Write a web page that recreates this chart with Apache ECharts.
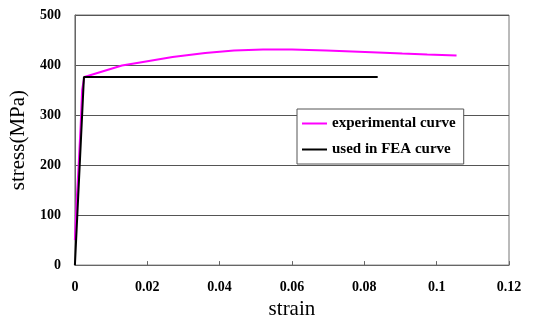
<!DOCTYPE html>
<html>
<head>
<meta charset="utf-8">
<style>html,body{margin:0;padding:0;background:#fff;}#c{width:543px;height:325px;}</style>
<script src="https://cdn.jsdelivr.net/npm/echarts@6/dist/echarts.min.js"></script>
</head>
<body>
<div id="c"></div>
<script>
// strain values and stress (MPa) values
const expStrain = [0, 0.0005, 0.001, 0.0016, 0.002, 0.0026, 0.013, 0.018, 0.027, 0.036, 0.044, 0.052, 0.06, 0.0695, 0.082, 0.0905, 0.0974, 0.1055];
const expStress = [50, 130, 195, 280, 350, 376, 399, 405, 416, 424, 429, 431, 431, 429, 425.5, 423, 421, 419];
const feaStrain = [0, 0.0025, 0.0837];
const feaStress = [0, 376, 376];
const xTickLabels = ['0', '0.02', '0.04', '0.06', '0.08', '0.1', '0.12'];
const yTickLabels = ['0', '100', '200', '300', '400', '500'];
const seriesNames = ['experimental curve', 'used in FEA curve'];

const serif = '"Liberation Serif", "Times New Roman", serif';
const chart = echarts.init(document.getElementById('c'));
chart.setOption({
  animation: false,
  backgroundColor: '#fff',
  grid: { left: 72, right: 34, top: 15, bottom: 57, show: true, borderColor: '#777', borderWidth: 1, backgroundColor: 'transparent' },
  legend: {
    orient: 'vertical', left: 297, top: 109, padding: [7, 8, 7, 5],
    backgroundColor: '#fff', borderColor: '#555', borderWidth: 1,
    icon: 'rect', itemWidth: 25, itemHeight: 2, itemGap: 11,
    textStyle: { fontFamily: serif, fontWeight: 'bold', fontSize: 15, color: '#000', lineHeight: 15 },
    data: seriesNames
  },
  xAxis: {
    type: 'value', min: 0, max: 0.12, interval: 0.02,
    name: 'strain', nameLocation: 'middle', nameGap: 27,
    nameTextStyle: { fontFamily: serif, fontSize: 21, color: '#000' },
    axisLine: { lineStyle: { color: '#666', width: 1 } },
    axisTick: { show: true, inside: true, length: 4, lineStyle: { color: '#666' } },
    splitLine: { show: false },
    axisLabel: { margin: 15, fontFamily: serif, fontWeight: 'bold', fontSize: 14, color: '#000',
      formatter: v => xTickLabels[Math.round(v / 0.02)] }
  },
  yAxis: {
    type: 'value', min: 0, max: 500, interval: 100,
    name: 'stress(MPa)', nameLocation: 'middle', nameGap: 38,
    nameTextStyle: { fontFamily: serif, fontSize: 21, color: '#000' },
    axisLine: { show: true, lineStyle: { color: '#666', width: 1 } },
    axisTick: { show: false },
    splitLine: { show: true, lineStyle: { color: '#555', width: 1 } },
    axisLabel: { margin: 14, fontFamily: serif, fontWeight: 'bold', fontSize: 14, color: '#000',
      formatter: v => yTickLabels[Math.round(v / 100)] }
  },
  series: [
    { name: seriesNames[0], type: 'line', symbol: 'none', smooth: false,
      lineStyle: { color: '#ff00ff', width: 2 }, itemStyle: { color: '#ff00ff' },
      data: expStrain.map((s, i) => [s, expStress[i]]) },
    { name: seriesNames[1], type: 'line', symbol: 'none',
      lineStyle: { color: '#000', width: 2 }, itemStyle: { color: '#000' },
      data: feaStrain.map((s, i) => [s, feaStress[i]]) }
  ]
});
</script>
</body>
</html>
